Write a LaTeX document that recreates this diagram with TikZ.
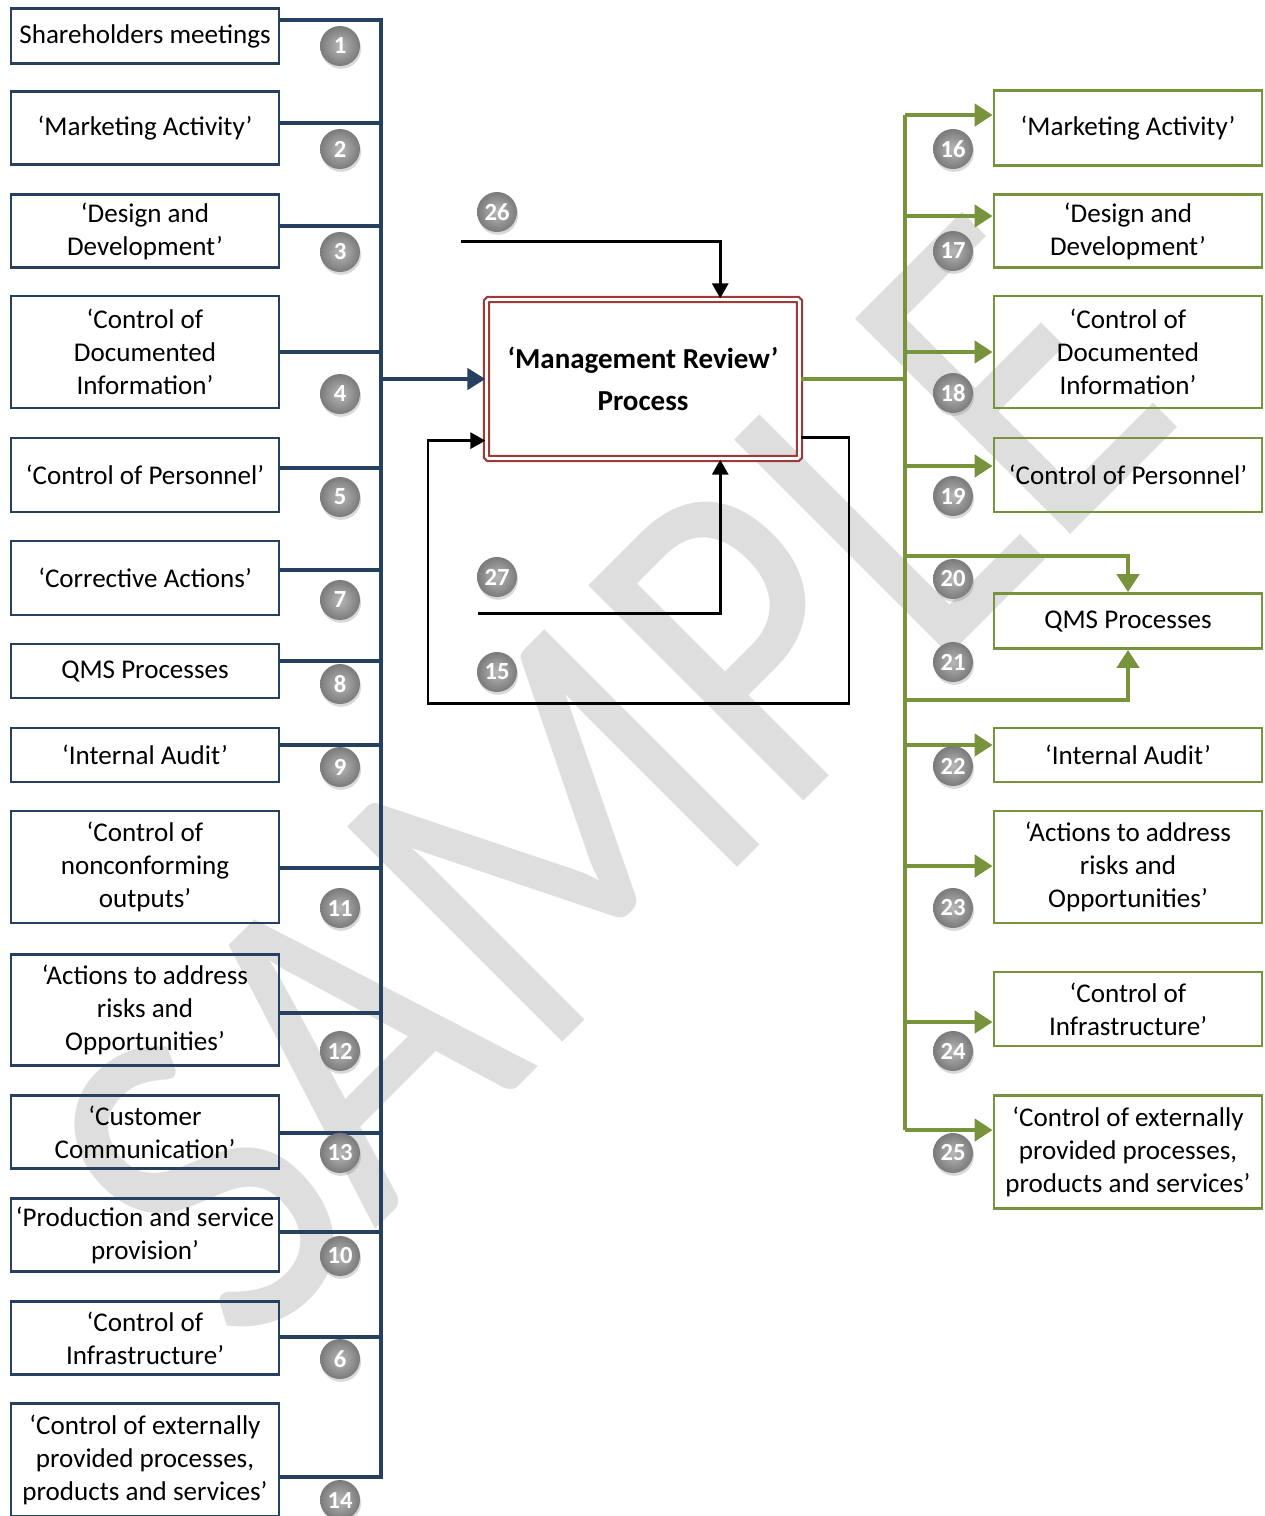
\documentclass[tikz,border=0pt]{standalone}
\usepackage{fontspec}
\setmainfont{Carlito}
\usetikzlibrary{arrows.meta}
\usetikzlibrary{calc}
\usetikzlibrary{shadows}

\definecolor{qblue}{HTML}{254061}
\definecolor{qgreen}{HTML}{77933C}
\definecolor{qred}{HTML}{9B3B3A}
\definecolor{wmark}{HTML}{DEDEDE}
\newcommand{\boxfont}{\fontsize{15.4}{18.8}\selectfont}

\tikzset{
	lbox/.style={draw=qblue, line width=1.6pt, minimum width=5.36cm, align=center, inner sep=0pt, font=\boxfont},
	rbox/.style={draw=qgreen, line width=1.6pt, minimum width=5.36cm, align=center, inner sep=0pt, font=\boxfont},
	mrbox/.style={draw=qred, double=white, line width=1.3pt, double distance=1.5pt, rounded corners=1pt, minimum width=6.26cm, minimum height=3.18cm, align=center, font=\bfseries\fontsize{16.5}{23.8}\selectfont},
	numc/.style={circle, minimum size=0.8cm, inner sep=0pt, inner color=black!28, outer color=black!52, drop shadow={shadow xshift=0.6pt, shadow yshift=-1.6pt, opacity=0.3}, text=white, font=\bfseries\fontsize{14}{14}\selectfont},
	bline/.style={draw=qblue, line width=2.7pt},
	gline/.style={draw=qgreen, line width=2.7pt},
	kline/.style={draw=black, line width=1.7pt},
}

\begin{document}
\begin{tikzpicture}[x=0.02cm, y=-0.02cm]
	\useasboundingbox (0,0) rectangle (1265,1516);

	%Watermark
	\node[text=wmark, rotate=45, xscale=0.85, font=\fontsize{270}{270}\selectfont] (wm) at (610,780) {SAMPLE};

	%Inputs
	\node[lbox, minimum height=1.1cm] (in1) at (145,36) {Shareholders meetings};
	\node[lbox, minimum height=1.46cm] (in2) at (145,128) {‘Marketing Activity’};
	\node[lbox, minimum height=1.46cm] (in3) at (145,231) {‘Design and\\Development’};
	\node[lbox, minimum height=2.24cm] (in4) at (145,352) {‘Control of\\Documented\\Information’};
	\node[lbox, minimum height=1.48cm] (in5) at (145,475) {‘Control of Personnel’};
	\node[lbox, minimum height=1.48cm] (in7) at (145,578) {‘Corrective Actions’};
	\node[lbox, minimum height=1.08cm] (in8) at (145,671) {QMS Processes};
	\node[lbox, minimum height=1.08cm] (in9) at (145,755) {‘Internal Audit’};
	\node[lbox, minimum height=2.24cm] (in11) at (145,867) {‘Control of\\nonconforming\\outputs’};
	\node[lbox, minimum height=2.22cm] (in12) at (145,1010) {‘Actions to address\\risks and\\Opportunities’};
	\node[lbox, minimum height=1.46cm] (in13) at (145,1132) {‘Customer\\Communication’};
	\node[lbox, minimum height=1.46cm] (in10) at (145,1235) {‘Production and service\\provision’};
	\node[lbox, minimum height=1.46cm] (in6) at (145,1338) {‘Control of\\Infrastructure’};
	\node[lbox, minimum height=2.26cm] (in14) at (145,1460) {‘Control of externally\\provided processes,\\products and services’};

	%Process
	\node[mrbox] (mr) at (643,379) {‘Management Review’\\Process};

	%Outputs
	\node[rbox, minimum height=1.5cm] (out16) at (1128,128) {‘Marketing Activity’};
	\node[rbox, minimum height=1.46cm] (out17) at (1128,231) {‘Design and\\Development’};
	\node[rbox, minimum height=2.24cm] (out18) at (1128,352) {‘Control of\\Documented\\Information’};
	\node[rbox, minimum height=1.48cm] (out19) at (1128,475) {‘Control of Personnel’};
	\node[rbox, minimum height=1.1cm] (out20) at (1128,621) {QMS Processes};
	\node[rbox, minimum height=1.08cm] (out22) at (1128,755) {‘Internal Audit’};
	\node[rbox, minimum height=2.24cm] (out23) at (1128,867) {‘Actions to address\\risks and\\Opportunities’};
	\node[rbox, minimum height=1.48cm] (out24) at (1128,1009) {‘Control of\\Infrastructure’};
	\node[rbox, minimum height=2.26cm] (out25) at (1128,1152) {‘Control of externally\\provided processes,\\products and services’};

	%Input bus
	\coordinate (lt) at (381,20);
	\coordinate (lb) at (381,1477);
	\coordinate (l2) at (381,123);
	\coordinate (l3) at (381,226);
	\coordinate (l4) at (381,352);
	\coordinate (l5) at (381,468);
	\coordinate (l7) at (381,570);
	\coordinate (l8) at (381,661);
	\coordinate (l9) at (381,745);
	\coordinate (l11) at (381,868);
	\coordinate (l12) at (381,1013);
	\coordinate (l13) at (381,1133);
	\coordinate (l10) at (381,1232);
	\coordinate (l6) at (381,1337);
	\draw[bline] (lt -| in1.east) -- (lt) -- (lb) -- (lb -| in14.east);
	\draw[bline] (l2 -| in2.east) -- (l2);
	\draw[bline] (l3 -| in3.east) -- (l3);
	\draw[bline] (l4 -| in4.east) -- (l4);
	\draw[bline] (l5 -| in5.east) -- (l5);
	\draw[bline] (l7 -| in7.east) -- (l7);
	\draw[bline] (l8 -| in8.east) -- (l8);
	\draw[bline] (l9 -| in9.east) -- (l9);
	\draw[bline] (l11 -| in11.east) -- (l11);
	\draw[bline] (l12 -| in12.east) -- (l12);
	\draw[bline] (l13 -| in13.east) -- (l13);
	\draw[bline] (l10 -| in10.east) -- (l10);
	\draw[bline] (l6 -| in6.east) -- (l6);
	\draw[bline, -{Triangle[length=0.36cm, width=0.42cm]}] (mr.west -| lt) -- (mr.west);

	%Output bus
	\coordinate (rt) at (905,115);
	\coordinate (rb) at (905,1130);
	\coordinate (r17) at (905,216);
	\coordinate (r18) at (905,352);
	\coordinate (r19) at (905,466);
	\coordinate (r20) at (905,556);
	\coordinate (r21) at (905,700);
	\coordinate (r22) at (905,745);
	\coordinate (r23) at (905,866);
	\coordinate (r24) at (905,1022);
	\draw[gline] (mr.east) -- (mr.east -| rt);
	\draw[gline] (rt) -- (rb);
	\draw[gline, -{Triangle[length=0.36cm, width=0.44cm]}] (rt) -- (rt -| out16.west);
	\draw[gline, -{Triangle[length=0.36cm, width=0.44cm]}] (r17) -- (r17 -| out17.west);
	\draw[gline, -{Triangle[length=0.36cm, width=0.44cm]}] (r18) -- (r18 -| out18.west);
	\draw[gline, -{Triangle[length=0.36cm, width=0.44cm]}] (r19) -- (r19 -| out19.west);
	\draw[gline, -{Triangle[length=0.36cm, width=0.44cm]}] (r20) -| (out20.north);
	\draw[gline, -{Triangle[length=0.36cm, width=0.44cm]}] (r21) -| (out20.south);
	\draw[gline, -{Triangle[length=0.36cm, width=0.44cm]}] (r22) -- (r22 -| out22.west);
	\draw[gline, -{Triangle[length=0.36cm, width=0.44cm]}] (r23) -- (r23 -| out23.west);
	\draw[gline, -{Triangle[length=0.36cm, width=0.44cm]}] (r24) -- (r24 -| out24.west);
	\draw[gline, -{Triangle[length=0.36cm, width=0.44cm]}] (rb) -- (rb -| out25.west);

	%Feedback
	\coordinate (s26) at (461,241);
	\coordinate (s27) at (478,613);
	\coordinate (c15a) at (849,703);
	\coordinate (c15b) at (428,703);
	\draw[kline, -{Triangle[length=0.3cm, width=0.32cm]}] (s26) -| ($(mr.north west)!0.745!(mr.north east)$);
	\draw[kline, -{Triangle[length=0.3cm, width=0.32cm]}] (s27) -| ($(mr.south west)!0.745!(mr.south east)$);
	\draw[kline, -{Triangle[length=0.3cm, width=0.32cm]}] ($(mr.south east)+(0,-22)$) -| (c15a) -- (c15b) |- ($(mr.south west)+(0,-19)$);

	%Numbers
	\node[numc] (n1) at (340,46) {1};
	\node[numc] (n2) at (340,149) {2};
	\node[numc] (n3) at (340,252) {3};
	\node[numc] (n4) at (340,394) {4};
	\node[numc] (n5) at (340,497) {5};
	\node[numc] (n7) at (340,600) {7};
	\node[numc] (n8) at (340,684) {8};
	\node[numc] (n9) at (340,767) {9};
	\node[numc] (n11) at (340,908) {11};
	\node[numc] (n12) at (340,1051) {12};
	\node[numc] (n13) at (340,1153) {13};
	\node[numc] (n10) at (340,1256) {10};
	\node[numc] (n6) at (340,1359) {6};
	\node[numc] (n14) at (340,1500) {14};
	\node[numc] (n26) at (497,212) {26};
	\node[numc] (n27) at (497,577) {27};
	\node[numc] (n15) at (497,672) {15};
	\node[numc] (n16) at (953,149) {16};
	\node[numc] (n17) at (953,251) {17};
	\node[numc] (n18) at (953,393) {18};
	\node[numc] (n19) at (953,496) {19};
	\node[numc] (n20) at (953,579) {20};
	\node[numc] (n21) at (953,662) {21};
	\node[numc] (n22) at (953,766) {22};
	\node[numc] (n23) at (953,908) {23};
	\node[numc] (n24) at (953,1051) {24};
	\node[numc] (n25) at (953,1153) {25};
\end{tikzpicture}
\end{document}
